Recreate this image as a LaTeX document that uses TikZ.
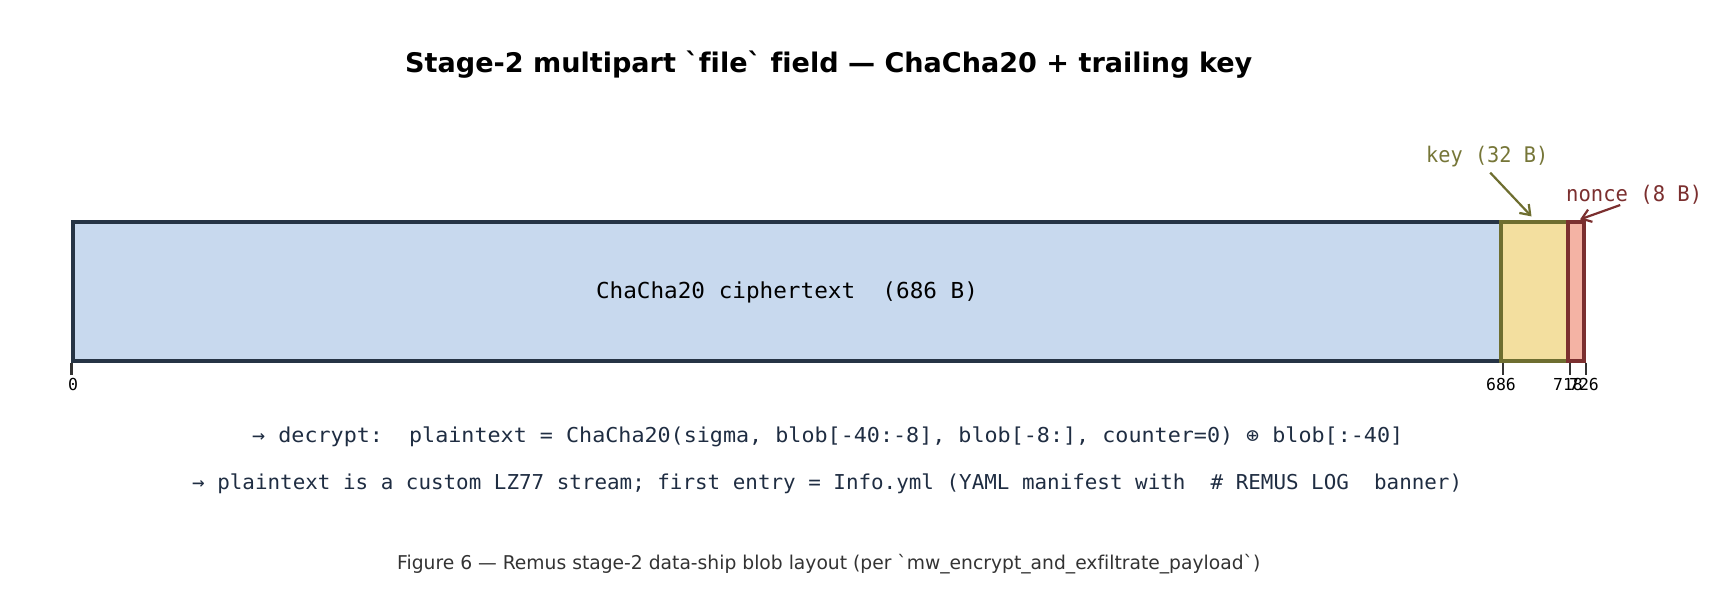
\documentclass[tikz,border=0pt]{standalone}
\usepackage{fontspec}
\usepackage{graphicx}
\setmainfont{DejaVu Sans}
\setmonofont{DejaVu Sans Mono}
\newfontfamily\dvs{DejaVu Sans}[Ligatures=NoCommon]
\usetikzlibrary{arrows.meta}
\newcommand\bqt{\symbol{"60}}
\definecolor{cblue}{HTML}{C8D9EE}
\definecolor{cdark}{HTML}{263445}
\definecolor{cyel}{HTML}{F3DF9F}
\definecolor{colive}{HTML}{6E6E30}
\definecolor{ckey}{HTML}{767638}
\definecolor{cred}{HTML}{F4B3A4}
\definecolor{cmaroon}{HTML}{7B2F2F}
\definecolor{cnavy}{HTML}{1F2D42}
\definecolor{ccap}{HTML}{333333}
\tikzset{
  seg/.style={rectangle, inner sep=0pt, line width=3.2pt, minimum height=139pt},
  txt/.style={inner sep=0pt, anchor=base},
  tickline/.style={draw=ccap, line width=2.2pt},
  ticklbl/.style={txt, font=\ttfamily\fontsize{16.5}{19}\selectfont, text=black},
  callout/.style={line width=2.2pt, -{Straight Barb[length=9pt,width=13pt,line width=2.2pt]}},
}
\begin{document}
\begin{tikzpicture}[x=1pt,y=-1pt]
\useasboundingbox (0,0) rectangle (1718,607);
% title
\node[txt, anchor=base west] (title) at (405,73)
  {\resizebox{847pt}{\height}{\dvs\fontsize{27}{32}\selectfont\bfseries Stage-2 multipart \bqt file\bqt\ field — ChaCha20 + trailing key}};
% segments
\node[seg, fill=cblue, draw=cdark, minimum width=1428pt] (ct) at (787,291.5) {};
\node[seg, fill=cyel, draw=colive, minimum width=67pt] (ky) at (1534.5,291.5) {};
\node[seg, fill=cred, draw=cmaroon, minimum width=16pt] (nr) at (1576,291.5) {};
\node[txt] (ctl) at (787,298)
  {\resizebox{382pt}{\height}{\ttfamily\fontsize{22}{26}\selectfont ChaCha20 ciphertext~ (686 B)}};
% ticks
\draw[tickline] (ct.south west) -- ++(0,12);
\draw[tickline] (ct.south east) -- ++(0,12);
\draw[tickline] (ky.south east) -- ++(0,12);
\draw[tickline] (nr.south east) -- ++(0,12);
\node[ticklbl] (t0) at (73,390) {0};
\node[ticklbl] (t686) at (1501,390) {686};
\node[ticklbl] (t718) at (1568,390) {718};
\node[ticklbl] (t726) at (1584,390) {726};
% callouts
\node[txt, anchor=base west, text=ckey] (kl) at (1426,162)
  {\resizebox{122pt}{\height}{\ttfamily\fontsize{21.5}{25}\selectfont key (32 B)}};
\node[txt, anchor=base west, text=cmaroon] (nl) at (1566,201)
  {\resizebox{136pt}{\height}{\ttfamily\fontsize{21.5}{25}\selectfont nonce (8 B)}};
\draw[callout, draw=colive] ([xshift=3pt,yshift=-6pt]kl.south) -- ([xshift=-3pt,yshift=4pt]ky.north);
\draw[callout, draw=cmaroon] ([xshift=-14pt,yshift=-1pt]nl.south) -- ([xshift=4pt,yshift=1pt]nr.north);
% notes
\node[txt, anchor=base west, text=cnavy] (l1) at (252,442)
  {\resizebox{1151pt}{\height}{\ttfamily\fontsize{20.5}{24}\selectfont → decrypt:~ plaintext = ChaCha20(sigma, blob[-40:-8], blob[-8:], counter=0) ⊕ blob[:-40]}};
\node[txt, anchor=base west, text=cnavy] (l2) at (192,489)
  {\resizebox{1270pt}{\height}{\ttfamily\fontsize{20.5}{24}\selectfont → plaintext is a custom LZ77 stream; first entry = Info.yml (YAML manifest with~ \# REMUS LOG~ banner)}};
% caption
\node[txt, anchor=base west, text=ccap] (cap) at (397,569)
  {\resizebox{863pt}{\height}{\dvs\fontsize{19}{23}\selectfont Figure 6 — Remus stage-2 data-ship blob layout (per \bqt mw\_encrypt\_and\_exfiltrate\_payload\bqt)}};
\end{tikzpicture}
\end{document}
